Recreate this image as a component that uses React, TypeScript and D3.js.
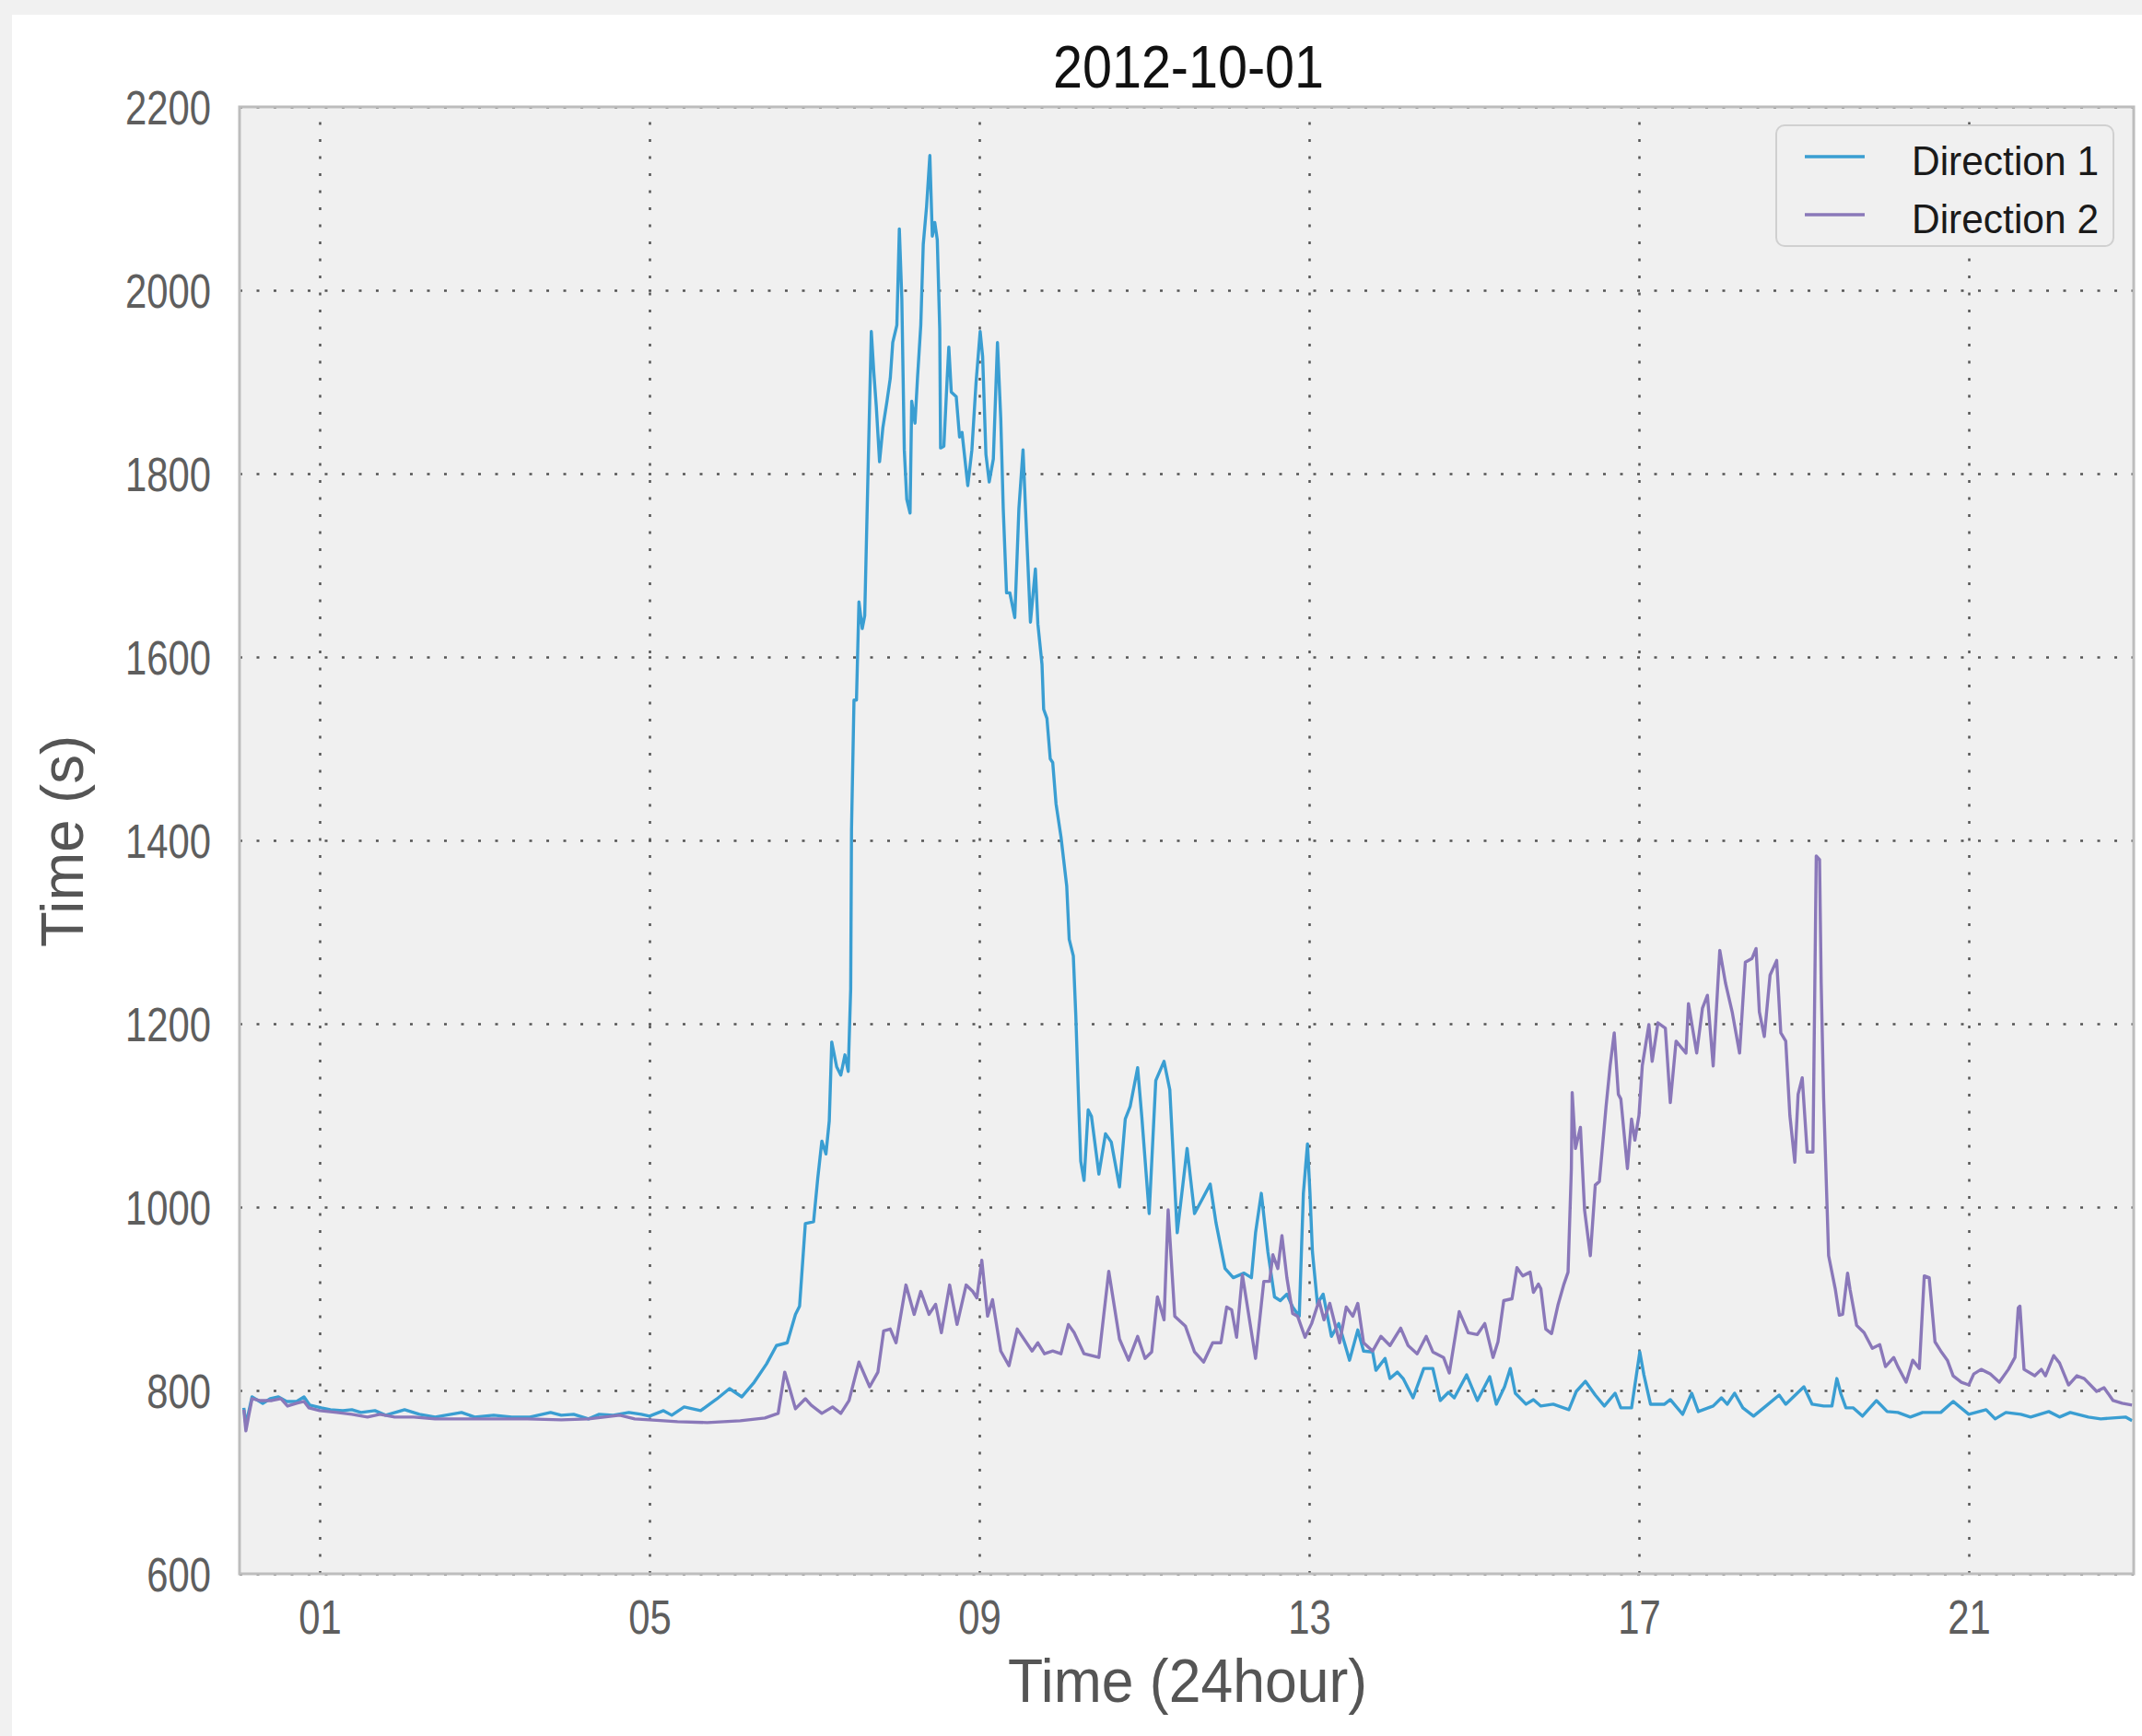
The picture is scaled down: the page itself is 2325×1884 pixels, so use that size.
import React, { useEffect, useRef } from "react";
import * as d3 from "d3";

const chartTitle = "2012-10-01";
const xAxisLabel = "Time (24hour)";
const yAxisLabel = "Time (s)";
const seriesNames = ["Direction 1", "Direction 2"];
const seriesColors = ["#3a9ed2", "#8a78b9"];

const xTickHours = [1, 5, 9, 13, 17, 21];
const yTicks = [600, 800, 1000, 1200, 1400, 1600, 1800, 2000, 2200];
const hourRange: [number, number] = [0.028, 23.0];
const timeRange: [number, number] = [600, 2200];

// [hour of day, travel time in seconds]
const direction1: [number, number][] = [
  [0.08, 781], [0.105, 763], [0.18, 793], [0.31, 786], [0.4, 791], [0.5, 793], [0.6, 788],
  [0.72, 788], [0.81, 793], [0.88, 784], [1.02, 781], [1.13, 779], [1.28, 778], [1.39, 779],
  [1.5, 776], [1.67, 778], [1.8, 773], [2.03, 779], [2.21, 774], [2.4, 771], [2.72, 776],
  [2.88, 771], [3.11, 773], [3.33, 771], [3.55, 771], [3.8, 776], [3.93, 773], [4.08, 774],
  [4.26, 769], [4.39, 774], [4.56, 773], [4.75, 776], [4.9, 774], [5.0, 772], [5.17, 778],
  [5.27, 773], [5.42, 782], [5.62, 778], [5.82, 791], [5.97, 802], [6.12, 793], [6.27, 809],
  [6.42, 829], [6.54, 849], [6.67, 852], [6.77, 883], [6.82, 892], [6.89, 982], [6.99, 984],
  [7.04, 1031], [7.09, 1072], [7.14, 1058], [7.18, 1094], [7.21, 1180], [7.27, 1153],
  [7.32, 1144], [7.37, 1166], [7.41, 1148], [7.44, 1238], [7.45, 1412], [7.48, 1553],
  [7.51, 1553], [7.54, 1660], [7.58, 1631], [7.61, 1645], [7.65, 1801], [7.69, 1955],
  [7.72, 1911], [7.75, 1874], [7.79, 1813], [7.83, 1850], [7.88, 1879], [7.92, 1904],
  [7.95, 1943], [8.0, 1962], [8.03, 2067], [8.06, 1991], [8.09, 1826], [8.12, 1772],
  [8.16, 1757], [8.18, 1879], [8.22, 1855], [8.25, 1904], [8.29, 1962], [8.32, 2050],
  [8.36, 2091], [8.4, 2147], [8.43, 2059], [8.46, 2074], [8.49, 2055], [8.52, 1957],
  [8.53, 1828], [8.57, 1830], [8.61, 1904], [8.63, 1938], [8.66, 1889], [8.72, 1884],
  [8.76, 1840], [8.79, 1845], [8.86, 1787], [8.91, 1826], [8.96, 1899], [9.01, 1955],
  [9.04, 1928], [9.08, 1821], [9.12, 1791], [9.17, 1816], [9.22, 1943], [9.26, 1860],
  [9.29, 1762], [9.33, 1670], [9.37, 1670], [9.43, 1643], [9.48, 1762], [9.53, 1826],
  [9.56, 1762], [9.62, 1638], [9.68, 1696], [9.71, 1636], [9.76, 1592], [9.78, 1543],
  [9.82, 1533], [9.86, 1489], [9.89, 1485], [9.93, 1440], [9.99, 1404], [10.06, 1350],
  [10.09, 1292], [10.14, 1274], [10.17, 1209], [10.21, 1100], [10.23, 1050], [10.27, 1029],
  [10.32, 1106], [10.36, 1099], [10.45, 1036], [10.53, 1080], [10.6, 1071], [10.7, 1022],
  [10.77, 1096], [10.83, 1110], [10.92, 1152], [10.97, 1099], [11.06, 993], [11.14, 1138],
  [11.24, 1159], [11.31, 1128], [11.4, 972], [11.52, 1064], [11.61, 993], [11.7, 1008],
  [11.8, 1025], [11.87, 983], [11.98, 933], [12.08, 923], [12.21, 928], [12.3, 923],
  [12.35, 972], [12.42, 1015], [12.5, 951], [12.58, 902], [12.65, 898], [12.73, 905],
  [12.8, 891], [12.88, 881], [12.93, 1015], [12.98, 1069], [13.01, 1015], [13.04, 951],
  [13.1, 895], [13.17, 905], [13.27, 859], [13.36, 873], [13.49, 833], [13.59, 866],
  [13.66, 843], [13.77, 842], [13.81, 822], [13.92, 835], [13.98, 813], [14.07, 820],
  [14.14, 813], [14.26, 792], [14.39, 824], [14.5, 824], [14.59, 789], [14.69, 798],
  [14.76, 792], [14.91, 817], [15.04, 789], [15.19, 815], [15.27, 785], [15.37, 804],
  [15.44, 824], [15.5, 797], [15.63, 785], [15.72, 790], [15.81, 783], [15.96, 785],
  [16.15, 779], [16.24, 799], [16.35, 810], [16.47, 795], [16.58, 783], [16.71, 797],
  [16.78, 781], [16.91, 781], [17.01, 842], [17.06, 817], [17.14, 785], [17.31, 785],
  [17.38, 790], [17.53, 774], [17.64, 797], [17.72, 777], [17.9, 783], [18.0, 792],
  [18.07, 785], [18.16, 797], [18.26, 781], [18.39, 772], [18.54, 783], [18.7, 795],
  [18.78, 785], [19.0, 804], [19.1, 785], [19.24, 783], [19.34, 783], [19.4, 813],
  [19.45, 796], [19.51, 781], [19.6, 781], [19.71, 772], [19.88, 789], [20.01, 777],
  [20.14, 776], [20.29, 771], [20.44, 776], [20.66, 776], [20.81, 788], [21.0, 774],
  [21.21, 779], [21.32, 769], [21.45, 776], [21.63, 774], [21.75, 771], [21.97, 777],
  [22.1, 771], [22.23, 776], [22.45, 771], [22.6, 769], [22.9, 771], [22.98, 767],
];

const direction2: [number, number][] = [
  [0.08, 779], [0.105, 756], [0.14, 773], [0.18, 791], [0.27, 789], [0.42, 789], [0.53, 791],
  [0.61, 783], [0.72, 786], [0.81, 788], [0.87, 781], [1.0, 778], [1.21, 776], [1.39, 774],
  [1.58, 771], [1.73, 774], [1.91, 771], [2.14, 771], [2.4, 769], [2.77, 769], [3.14, 769],
  [3.52, 769], [3.93, 768], [4.26, 769], [4.45, 771], [4.64, 773], [4.82, 769], [5.0, 768],
  [5.34, 766], [5.7, 765], [6.1, 767], [6.4, 770], [6.56, 775], [6.64, 820], [6.7, 802],
  [6.77, 780], [6.89, 791], [6.96, 784], [7.09, 775], [7.22, 782], [7.32, 775], [7.42, 789],
  [7.54, 831], [7.67, 804], [7.77, 820], [7.84, 865], [7.92, 867], [7.99, 852], [8.11, 915],
  [8.21, 883], [8.29, 908], [8.39, 883], [8.47, 894], [8.54, 863], [8.64, 915], [8.73, 872],
  [8.84, 915], [8.92, 908], [8.97, 901], [9.03, 942], [9.1, 881], [9.16, 899], [9.26, 843],
  [9.36, 827], [9.46, 867], [9.64, 843], [9.71, 852], [9.79, 840], [9.89, 843], [9.99, 840],
  [10.08, 872], [10.15, 863], [10.27, 840], [10.45, 836], [10.57, 930], [10.7, 856],
  [10.81, 833], [10.92, 859], [11.01, 835], [11.09, 842], [11.16, 902], [11.24, 877],
  [11.29, 997], [11.37, 881], [11.5, 870], [11.61, 842], [11.72, 831], [11.83, 852],
  [11.93, 852], [12.0, 891], [12.06, 888], [12.12, 858], [12.19, 926], [12.24, 898],
  [12.35, 835], [12.45, 919], [12.52, 919], [12.56, 948], [12.62, 933], [12.67, 969],
  [12.73, 923], [12.8, 884], [12.86, 881], [12.95, 858], [13.03, 873], [13.12, 898],
  [13.18, 877], [13.25, 895], [13.37, 852], [13.45, 891], [13.53, 881], [13.59, 895],
  [13.66, 852], [13.77, 843], [13.87, 859], [13.98, 849], [14.11, 868], [14.2, 849],
  [14.31, 840], [14.42, 859], [14.5, 842], [14.63, 836], [14.7, 819], [14.82, 886],
  [14.93, 863], [15.04, 861], [15.13, 873], [15.23, 836], [15.29, 853], [15.36, 898],
  [15.46, 900], [15.52, 934], [15.59, 925], [15.68, 929], [15.72, 907], [15.78, 916],
  [15.81, 911], [15.87, 867], [15.94, 862], [16.02, 894], [16.09, 916], [16.14, 929],
  [16.18, 1042], [16.19, 1125], [16.23, 1064], [16.29, 1087], [16.34, 997], [16.41, 947],
  [16.47, 1024], [16.52, 1028], [16.6, 1109], [16.65, 1154], [16.7, 1190], [16.75, 1123],
  [16.78, 1118], [16.86, 1042], [16.91, 1096], [16.95, 1073], [17.0, 1100], [17.04, 1154],
  [17.12, 1199], [17.16, 1159], [17.23, 1201], [17.32, 1195], [17.38, 1114], [17.45, 1181],
  [17.57, 1168], [17.6, 1222], [17.65, 1195], [17.7, 1168], [17.77, 1217], [17.83, 1231],
  [17.9, 1154], [17.98, 1280], [18.05, 1244], [18.13, 1213], [18.22, 1168], [18.29, 1267],
  [18.37, 1271], [18.42, 1282], [18.46, 1213], [18.52, 1186], [18.59, 1253], [18.67, 1269],
  [18.72, 1190], [18.78, 1181], [18.83, 1100], [18.89, 1049], [18.93, 1123], [18.98, 1141],
  [19.04, 1060], [19.11, 1060], [19.15, 1383], [19.19, 1379], [19.21, 1244], [19.24, 1118],
  [19.3, 947], [19.38, 911], [19.43, 882], [19.47, 883], [19.53, 928], [19.56, 910],
  [19.64, 871], [19.73, 863], [19.83, 846], [19.92, 850], [19.99, 826], [20.09, 836],
  [20.14, 826], [20.24, 809], [20.32, 833], [20.4, 824], [20.46, 925], [20.52, 923],
  [20.59, 853], [20.66, 843], [20.74, 833], [20.81, 816], [20.91, 809], [21.0, 806],
  [21.06, 818], [21.15, 823], [21.26, 818], [21.37, 809], [21.48, 823], [21.56, 836],
  [21.6, 890], [21.62, 892], [21.67, 823], [21.8, 816], [21.88, 823], [21.93, 816],
  [22.03, 838], [22.1, 830], [22.21, 806], [22.31, 816], [22.4, 813], [22.55, 799],
  [22.64, 803], [22.75, 789], [22.86, 786], [22.98, 784],
];

const W = 2325;
const H = 1884;
const plot = { left: 260, top: 116, right: 2316, bottom: 1708 };
const FONT = "'Liberation Sans', 'DejaVu Sans', Arial, sans-serif";

export default function App() {
  const svgRef = useRef<SVGSVGElement>(null);

  useEffect(() => {
    const svg = d3.select(svgRef.current);
    svg.selectAll("*").remove();

    const x = d3.scaleLinear().domain(hourRange).range([plot.left, plot.right]);
    const y = d3.scaleLinear().domain(timeRange).range([plot.bottom, plot.top]);

    // page + figure background
    svg.append("rect").attr("width", W).attr("height", H).attr("fill", "#f1f1f1");
    svg.append("rect").attr("x", 13).attr("y", 16).attr("width", W - 13).attr("height", H - 16).attr("fill", "#ffffff");
    svg.append("rect")
      .attr("x", plot.left).attr("y", plot.top)
      .attr("width", plot.right - plot.left).attr("height", plot.bottom - plot.top)
      .attr("fill", "#f0f0f0");

    // axes, ticks double as dotted grid
    const gx = svg.append("g")
      .attr("transform", `translate(0,${plot.bottom})`)
      .call(d3.axisBottom(x).tickValues(xTickHours)
        .tickFormat((d) => d3.format("02d")(d as number))
        .tickSize(-(plot.bottom - plot.top)).tickPadding(29));

    const gy = svg.append("g")
      .attr("transform", `translate(${plot.left},0)`)
      .call(d3.axisLeft(y).tickValues(yTicks)
        .tickFormat((d) => d3.format("d")(d as number))
        .tickSize(-(plot.right - plot.left)).tickPadding(31));

    [gx, gy].forEach((g) => {
      g.select(".domain").remove();
      g.selectAll(".tick line")
        .attr("stroke", "#555")
        .attr("stroke-width", 2.5)
        .attr("stroke-dasharray", "3,15.5");
      g.selectAll(".tick text")
        .attr("fill", "#5e5e5e")
        .attr("font-family", FONT)
        .attr("font-size", 51)
        .attr("transform", "scale(0.82,1)");
    });
    gy.selectAll(".tick text").attr("x", -31 / 0.82).attr("dy", "0.36em");

    // series lines
    const line = d3.line<[number, number]>().x((d) => x(d[0])).y((d) => y(d[1]));
    [direction1, direction2].forEach((s, i) => {
      svg.append("path")
        .datum(s)
        .attr("fill", "none")
        .attr("stroke", seriesColors[i])
        .attr("stroke-width", 3.4)
        .attr("stroke-linejoin", "round")
        .attr("d", line);
    });

    // frame
    svg.append("rect")
      .attr("x", plot.left).attr("y", plot.top)
      .attr("width", plot.right - plot.left).attr("height", plot.bottom - plot.top)
      .attr("fill", "none").attr("stroke", "#bdbdbd").attr("stroke-width", 3);

    // legend
    const lg = svg.append("g").attr("transform", "translate(1928,136)");
    lg.append("rect")
      .attr("width", 366).attr("height", 131).attr("rx", 9)
      .attr("fill", "#f0f0f0").attr("stroke", "#d0d0d0").attr("stroke-width", 2);
    seriesNames.forEach((name, i) => {
      const yy = 34 + i * 63;
      lg.append("line")
        .attr("x1", 31).attr("x2", 96).attr("y1", yy).attr("y2", yy)
        .attr("stroke", seriesColors[i]).attr("stroke-width", 3.4);
      lg.append("text")
        .attr("x", 147).attr("y", yy + 20)
        .attr("font-family", FONT).attr("font-size", 44)
        .attr("textLength", 203).attr("lengthAdjust", "spacingAndGlyphs")
        .attr("fill", "#1a1a1a")
        .text(name);
    });

    // title and axis labels
    svg.append("text")
      .attr("x", 1290).attr("y", 95)
      .attr("text-anchor", "middle")
      .attr("font-family", FONT).attr("font-size", 64)
      .attr("textLength", 294).attr("lengthAdjust", "spacingAndGlyphs")
      .attr("fill", "#111")
      .text(chartTitle);

    svg.append("text")
      .attr("x", 1289).attr("y", 1847)
      .attr("text-anchor", "middle")
      .attr("font-family", FONT).attr("font-size", 66)
      .attr("textLength", 390).attr("lengthAdjust", "spacingAndGlyphs")
      .attr("fill", "#555")
      .text(xAxisLabel);

    svg.append("text")
      .attr("transform", "translate(90,913) rotate(-90)")
      .attr("text-anchor", "middle")
      .attr("font-family", FONT).attr("font-size", 64)
      .attr("textLength", 230).attr("lengthAdjust", "spacingAndGlyphs")
      .attr("fill", "#555")
      .text(yAxisLabel);
  }, []);

  return (
    <div>
      <style>{"body{margin:0}"}</style>
      <svg ref={svgRef} width={W} height={H} style={{ display: "block" }} />
    </div>
  );
}
